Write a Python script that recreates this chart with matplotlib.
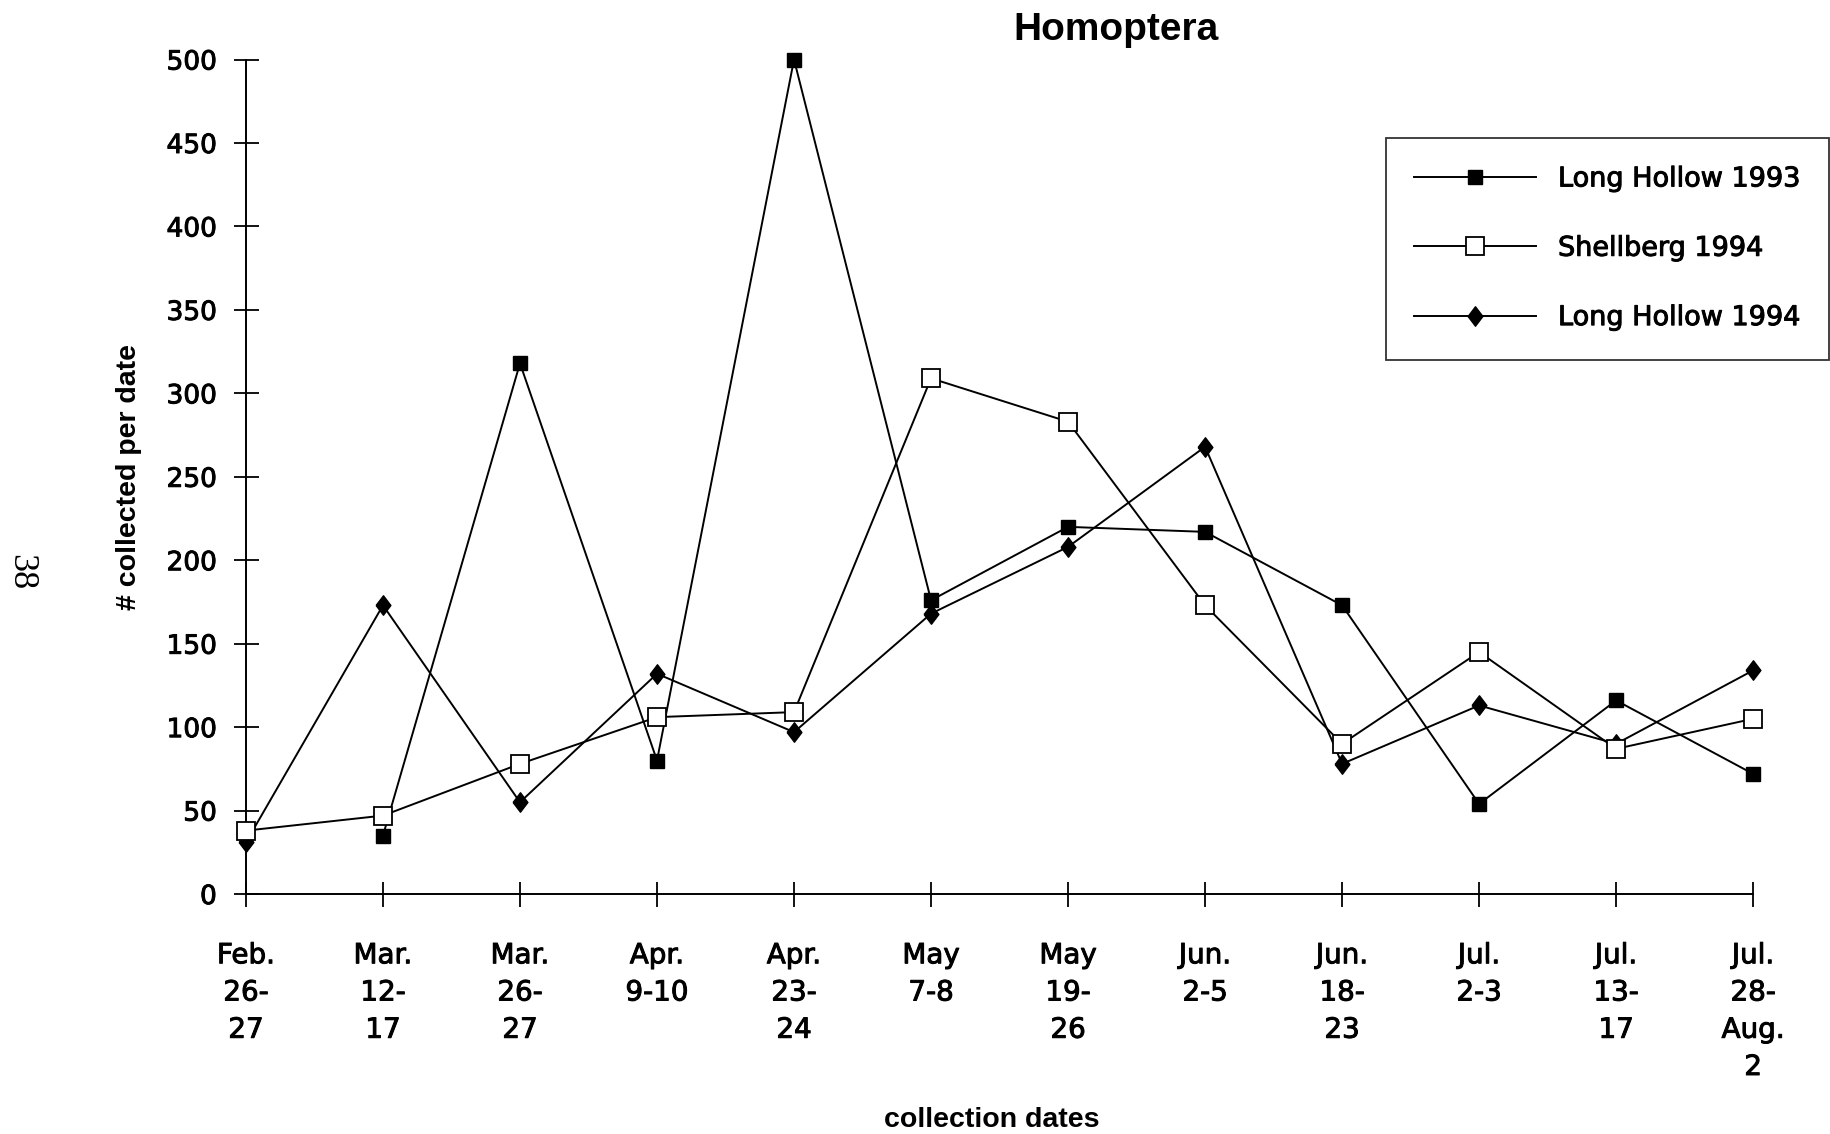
import matplotlib

matplotlib.use("Agg")
import matplotlib.patheffects as pe
import matplotlib.pyplot as plt
import numpy as np

dates = [
    "Feb.\n26-\n27", "Mar.\n12-\n17", "Mar.\n26-\n27", "Apr.\n9-10",
    "Apr.\n23-\n24", "May\n7-8", "May\n19-\n26", "Jun.\n2-5",
    "Jun.\n18-\n23", "Jul.\n2-3", "Jul.\n13-\n17", "Jul.\n28-\nAug.\n2",
]
# Long Hollow 1993 has no value for the first date
long_hollow_1993 = [np.nan, 35, 318, 80, 500, 176, 220, 217, 173, 54, 116, 72]
shellberg_1994 = [38, 47, 78, 106, 109, 309, 283, 173, 90, 145, 87, 105]
long_hollow_1994 = [31, 173, 55, 132, 97, 168, 208, 268, 78, 113, 90, 134]
y_ticks = [0, 50, 100, 150, 200, 250, 300, 350, 400, 450, 500]

fig = plt.figure(figsize=(18.3, 11.34), dpi=100)
ax = fig.add_axes([0.1344, 0.2116, 0.8236, 0.7359])

x = np.arange(len(dates))
diamond = [(-0.38, 0), (0, 0.5), (0.38, 0), (0, -0.5), (-0.38, 0)]

ax.plot(x, long_hollow_1993, color="black", lw=1.4, marker="s", ms=10.5,
        mfc="black", mec="black", clip_on=False, label="Long Hollow 1993", zorder=3)
ax.plot(x, shellberg_1994, color="black", lw=1.4, marker="s", ms=12.5,
        mfc="white", mec="black", mew=1.3, clip_on=False, label="Shellberg 1994", zorder=4)
ax.plot(x, long_hollow_1994, color="black", lw=1.4, marker=diamond, ms=14,
        mfc="black", mec="black", clip_on=False, label="Long Hollow 1994", zorder=3)

# slightly heavier strokes for the sans text, the scan looks like a medium weight
heavy = [pe.withStroke(linewidth=0.7, foreground="black")]

ax.set_xlim(0, len(dates) - 1)
ax.set_ylim(0, 500)
ax.set_xticks(x)
ax.set_xticklabels(dates, fontsize=20, family="DejaVu Sans", linespacing=1.42)
ax.set_yticks(y_ticks)
ax.set_yticklabels([str(v) for v in y_ticks], fontsize=19, family="DejaVu Sans")
for lbl in ax.get_xticklabels() + ax.get_yticklabels():
    lbl.set_path_effects(heavy)
ax.tick_params(axis="both", direction="inout", length=18, width=1.3, color="black")
ax.tick_params(axis="x", pad=25)
ax.tick_params(axis="y", pad=12)

for side in ("top", "right"):
    ax.spines[side].set_visible(False)
for side in ("left", "bottom"):
    ax.spines[side].set_linewidth(1.4)

leg = ax.legend(
    loc="upper left", bbox_to_anchor=(0.7574, 0.8783), bbox_transform=fig.transFigure,
    borderaxespad=0, prop={"family": "DejaVu Sans", "size": 19.5}, frameon=True,
    fancybox=False, edgecolor="black", handlelength=4.5, handletextpad=0.8,
    labelspacing=1.6, borderpad=1.05,
)
leg.get_frame().set_linewidth(1.3)
for txt in leg.get_texts():
    txt.set_path_effects(heavy)

fig.text(0.61, 1 - 30 / 1134, "Homoptera", ha="center", va="center",
         fontsize=28, fontweight="bold", family="Liberation Sans")
fig.text(0.542, 1 - 1120 / 1134, "collection dates", ha="center", va="center",
         fontsize=20.5, fontweight="bold", family="Liberation Sans")
fig.text(0.0705, 1 - 477 / 1134, "# collected per date", ha="center", va="center",
         rotation=90, fontsize=20.5, fontweight="bold", family="Liberation Sans")
fig.text(0.0115, 1 - 572 / 1134, "38", ha="center", va="center", rotation=270,
         fontsize=26, family="Liberation Serif")

fig.savefig("out.png", dpi=100)
